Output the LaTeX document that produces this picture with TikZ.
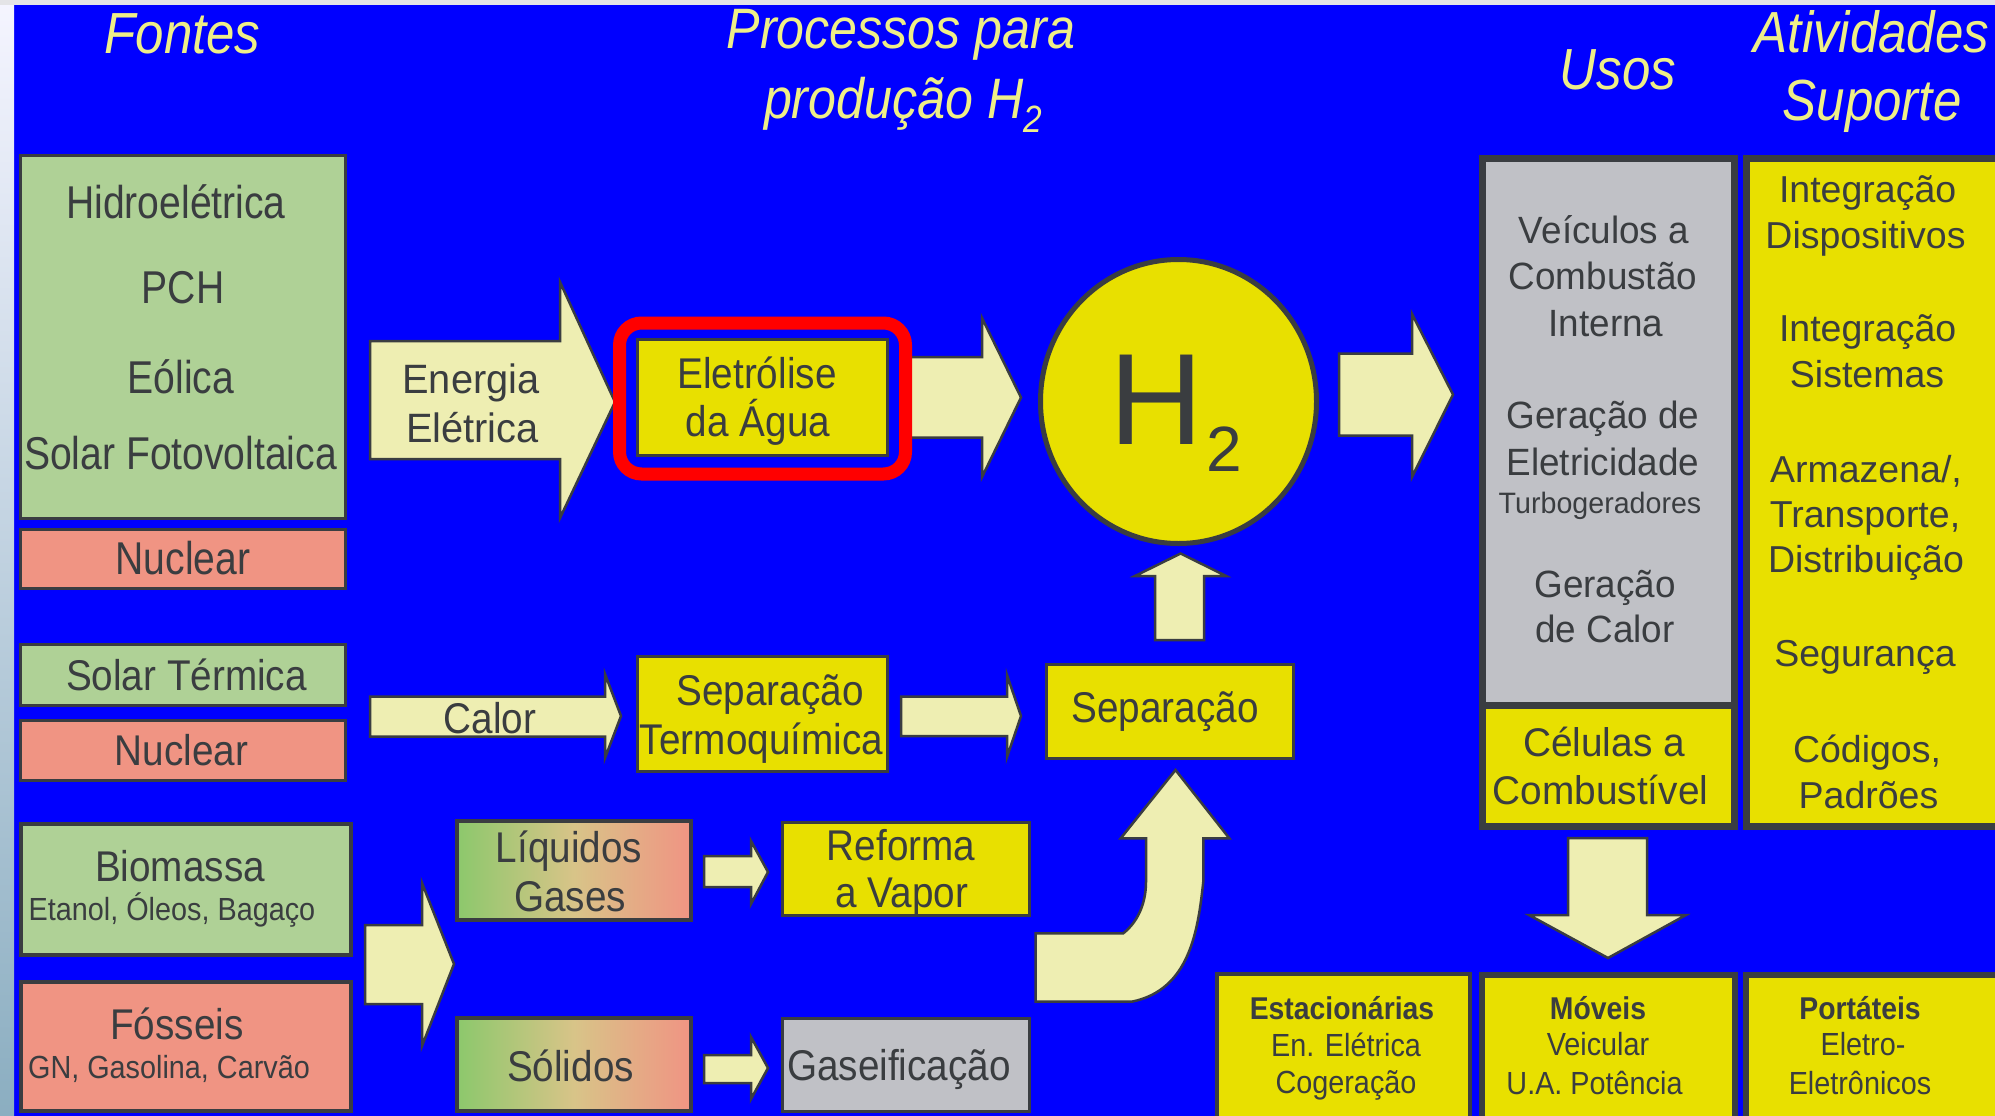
\documentclass[tikz,border=0pt]{standalone}
\usepackage{fontspec}
\setmainfont{Liberation Sans}[FakeStretch=0.9]
\newfontfamily\narf{Liberation Sans}[FakeStretch=0.85]
\newfontfamily\widf{Liberation Sans}[FakeStretch=0.97]
\newfontfamily\fullf{Liberation Sans}
\newfontfamily\titf{Liberation Sans}[FakeStretch=0.88]
\usetikzlibrary{shapes.geometric}
\definecolor{bgblue}{HTML}{0000FF}
\definecolor{titc}{HTML}{EEEE88}
\definecolor{txtc}{HTML}{3A3D40}
\definecolor{bordc}{HTML}{3A3D41}
\definecolor{grn}{HTML}{AFD196}
\definecolor{sal}{HTML}{F09483}
\definecolor{yel}{HTML}{E8E000}
\definecolor{palec}{HTML}{EEEEB2}
\definecolor{gryc}{HTML}{C0C1C6}
\definecolor{liqg}{HTML}{8CC86C}
\definecolor{liqm}{HTML}{D8C488}
\newcommand\fsz[1]{\fontsize{#1}{#1}\selectfont}
\begin{document}
\begin{tikzpicture}[x=1pt,y=-1pt,
  txt/.style={anchor=base,inner sep=0pt,outer sep=0pt,text=txtc},
  ttl/.style={anchor=base,inner sep=0pt,outer sep=0pt,text=titc},
  bx/.style={draw=bordc,inner sep=0pt,outer sep=0pt,line width=3pt},
  arr/.style={fill=palec,draw=bordc,line width=2.5pt,line join=miter}]
\useasboundingbox (0,0) rectangle (1995,1116);
% background
\fill[bgblue] (0,0) rectangle (1995,1116);
\shade[top color=white!80!blue!20, bottom color=blue!35!cyan!30!gray!70] (0,0) rectangle (14,1116);
\fill[blue!6!gray!20] (0,0) rectangle (1995,5);
% titles
\node[ttl,font=\titf\itshape\fsz{58}] (tFontes) at (182.5,54) {Fontes};
\node[ttl,font=\titf\itshape\fsz{57}] (tProc1) at (901,49) {Processos para};
\node[ttl,font=\titf\itshape\fsz{57}] (tProc2) at (903,118) {produção H\raisebox{-14pt}{\fsz{38}2}};
\node[ttl,font=\titf\itshape\fsz{58}] (tUsos) at (1618,89) {Usos};
\node[ttl,font=\titf\itshape\fsz{58}] (tAtiv) at (1871.5,53) {Atividades};
\node[ttl,font=\titf\itshape\fsz{58}] (tSup) at (1872,121) {Suporte};
% block arrows
\draw[arr] (370,341) -- (560,341) -- (560,282) -- (615,402) -- (560,518) -- (560,459) -- (370,459) -- cycle;
\draw[arr] (905,357) -- (982,357) -- (982,318) -- (1021,397.5) -- (982,477) -- (982,437.5) -- (905,437.5) -- cycle;
\draw[arr] (1339,353.5) -- (1412,353.5) -- (1412,314) -- (1453,394.6) -- (1412,477) -- (1412,435.7) -- (1339,435.7) -- cycle;
\draw[arr] (370,696.5) -- (605,696.5) -- (605,674) -- (621,716) -- (605,758) -- (605,736.6) -- (370,736.6) -- cycle;
\draw[arr] (901,696.5) -- (1007,696.5) -- (1007,675) -- (1021,716) -- (1007,757) -- (1007,736) -- (901,736) -- cycle;
\draw[arr] (1155,640) -- (1155,576) -- (1135,576) -- (1180.6,553.5) -- (1226,576) -- (1204,576) -- (1204,640) -- cycle;
\draw[arr] (365,925) -- (422,925) -- (422,883) -- (454,964) -- (422,1046) -- (422,1004) -- (365,1004) -- cycle;
\draw[arr] (704,856) -- (751,856) -- (751,841) -- (768,872) -- (751,904) -- (751,887) -- (704,887) -- cycle;
\draw[arr] (704,1055) -- (751,1055) -- (751,1037) -- (768,1068) -- (751,1099) -- (751,1083) -- (704,1083) -- cycle;
\draw[arr] (1035.7,933.3) -- (1123.3,933.3) .. controls (1140,920) and (1146,900) .. (1146,881.7) -- (1146,838.3) -- (1120.7,838.3) -- (1175.5,770) -- (1229.3,838.3) -- (1203.3,838.3) -- (1203.3,881.7) .. controls (1198,930) and (1190,990) .. (1131.7,1001.7) -- (1035.7,1001.7) -- cycle;
\draw[arr] (1568,838) -- (1647,838) -- (1647,915) -- (1686,915) -- (1608,958) -- (1529,915) -- (1568,915) -- cycle;
% source boxes
\node[bx,fill=grn,minimum width=325.5pt,minimum height=363pt] (bxEl) at (182.75,336.5) {};
\node[bx,fill=sal,minimum width=325.5pt,minimum height=59pt] (bxNuc1) at (182.75,559) {};
\node[bx,fill=grn,minimum width=325.5pt,minimum height=61pt] (bxSolT) at (182.75,675) {};
\node[bx,fill=sal,minimum width=325.5pt,minimum height=60pt] (bxNuc2) at (182.75,750.5) {};
\node[bx,fill=grn,line width=4pt,minimum width=330pt,minimum height=131pt] (bxBio) at (186,889.5) {};
\node[bx,fill=sal,line width=4pt,minimum width=330pt,minimum height=129pt] (bxFos) at (186,1046.5) {};
% process boxes
\node[bx,line width=4pt,shading=axis,left color=liqg,right color=sal,middle color=liqm,minimum width=234pt,minimum height=99pt] (bxLiq) at (574,870.5) {};
\node[bx,line width=4pt,shading=axis,left color=liqg,right color=sal,middle color=liqm,minimum width=234pt,minimum height=93pt] (bxSol) at (574,1064.5) {};
\node[bx,fill=yel,minimum width=250pt,minimum height=116.5pt] (bxEle) at (762.5,397.25) {};
\node[draw=red,line width=13pt,rounded corners=22pt,inner sep=0pt,minimum width=286pt,minimum height=151pt] (redframe) at (762.5,398.5) {};
\node[bx,fill=yel,minimum width=250pt,minimum height=115pt] (bxSepT) at (762.5,714) {};
\node[bx,fill=yel,minimum width=247pt,minimum height=94pt] (bxSep) at (1170,711.5) {};
\node[bx,fill=yel,minimum width=247pt,minimum height=93pt] (bxRef) at (906,869) {};
\node[bx,fill=gryc,minimum width=247pt,minimum height=93pt] (bxGas) at (906,1065) {};
\node[ellipse,draw=bordc,fill=yel,line width=5pt,inner sep=0pt,minimum width=276pt,minimum height=284pt] (h2) at (1178.5,401.5) {};
% uses / support
\node[bx,fill=gryc,line width=7pt,minimum width=252pt,minimum height=546.5pt] (bxUsos) at (1608.5,431.75) {};
\node[bx,fill=yel,line width=7pt,minimum width=252pt,minimum height=121.5pt] (bxCel) at (1608.5,765.75) {};
\node[bx,fill=yel,line width=7pt,minimum width=258.5pt,minimum height=668pt] (bxAtiv) at (1875.75,492.5) {};
\node[bx,fill=yel,line width=4pt,minimum width=252.7pt,minimum height=151.3pt] (bxEst) at (1343.35,1049.35) {};
\node[bx,fill=yel,line width=6pt,minimum width=253pt,minimum height=150pt] (bxMov) at (1608.5,1050) {};
\node[bx,fill=yel,line width=6pt,minimum width=259pt,minimum height=150pt] (bxPort) at (1875.5,1050) {};
% texts: sources
\node[txt,font=\narf\fsz{46}] (tHidro) at (176,218.5) {Hidroelétrica};
\node[txt,font=\narf\fsz{46}] (tPCH) at (183,303.5) {PCH};
\node[txt,font=\narf\fsz{46}] (tEol) at (181,393) {Eólica};
\node[txt,font=\narf\fsz{46}] (tSolF) at (180.5,469.6) {Solar Fotovoltaica};
\node[txt,font=\narf\fsz{46}] (tNuc1) at (183,574.5) {Nuclear};
\node[txt,font=\fsz{43}] (tSolT) at (186.5,690.5) {Solar Térmica};
\node[txt,font=\fsz{43}] (tNuc2) at (181.5,765) {Nuclear};
\node[txt,font=\fsz{43}] (tBio) at (180,881) {Biomassa};
\node[txt,font=\fsz{32}] (tBio2) at (172,920) {Etanol, Óleos, Bagaço};
\node[txt,font=\fsz{43}] (tFos) at (177,1039) {Fósseis};
\node[txt,font=\fsz{32}] (tFos2) at (169,1078) {GN, Gasolina, Carvão};
% arrow labels
\node[txt,font=\widf\fsz{41}] (tEn1) at (471,393) {Energia};
\node[txt,font=\widf\fsz{41}] (tEn2) at (472.5,442) {Elétrica};
\node[txt,font=\fsz{43}] (tCalor) at (490,733) {Calor};
% process texts
\node[txt,font=\fsz{43}] (tEle1) at (757,388.5) {Eletrólise};
\node[txt,font=\fsz{43}] (tEle2) at (758,436) {da Água};
\node[txt,font=\fsz{43}] (tSep1) at (770,705) {Separação};
\node[txt,font=\fsz{43}] (tSep2) at (761.5,754) {Termoquímica};
\node[txt,font=\fsz{43}] (tSep) at (1165,722) {Separação};
\node[txt,font=\fsz{43}] (tRef1) at (901,860) {Reforma};
\node[txt,font=\fsz{43}] (tRef2) at (902,907.5) {a Vapor};
\node[txt,font=\fsz{43}] (tLiq1) at (569,862) {Líquidos};
\node[txt,font=\fsz{43}] (tLiq2) at (570,911) {Gases};
\node[txt,font=\fsz{43}] (tSol) at (570.5,1081) {Sólidos};
\node[txt,font=\fsz{43}] (tGas) at (899,1080.5) {Gaseificação};
\node[txt,anchor=base west,font=\fullf\fsz{130}] (tH2) at (1109,444.6) {H\hspace{4pt}\raisebox{-26.4pt}{\fsz{64}2}};
% uses texts
\node[txt,font=\widf\fsz{38}] (tU1) at (1604,243) {Veículos a};
\node[txt,font=\widf\fsz{38}] (tU2) at (1603,289) {Combustão};
\node[txt,font=\widf\fsz{38}] (tU3) at (1606,336) {Interna};
\node[txt,font=\widf\fsz{38}] (tU4) at (1603,428) {Geração de};
\node[txt,font=\widf\fsz{38}] (tU5) at (1603,475) {Eletricidade};
\node[txt,font=\widf\fsz{29.5}] (tU6) at (1600,513.5) {Turbogeradores};
\node[txt,font=\widf\fsz{38}] (tU7) at (1605,597) {Geração};
\node[txt,font=\widf\fsz{38}] (tU8) at (1605,642) {de Calor};
\node[txt,font=\widf\fsz{40}] (tC1) at (1604,756) {Células a};
\node[txt,font=\widf\fsz{40}] (tC2) at (1600.5,804) {Combustível};
% support texts
\node[txt,font=\fullf\fsz{37.5}] (tA1) at (1867.6,202) {Integração};
\node[txt,font=\fullf\fsz{37.5}] (tA2) at (1865.5,248) {Dispositivos};
\node[txt,font=\fullf\fsz{37.5}] (tA3) at (1867.6,341) {Integração};
\node[txt,font=\fullf\fsz{37.5}] (tA4) at (1867,387.5) {Sistemas};
\node[txt,font=\fullf\fsz{37.5}] (tA5) at (1866,482) {Armazena/,};
\node[txt,font=\fullf\fsz{37.5}] (tA6) at (1865,527) {Transporte,};
\node[txt,font=\fullf\fsz{37.5}] (tA7) at (1866,572) {Distribuição};
\node[txt,font=\fullf\fsz{37.5}] (tA8) at (1865,666) {Segurança};
\node[txt,font=\fullf\fsz{37.5}] (tA9) at (1867,762) {Códigos,};
\node[txt,font=\fullf\fsz{37.5}] (tA10) at (1868.5,808) {Padrões};
% application boxes texts
\node[txt,font=\bfseries\fsz{31.5}] (tE1) at (1342,1019.3) {Estacionárias};
\node[txt,font=\fsz{32}] (tE2) at (1346,1056) {En. Elétrica};
\node[txt,font=\fsz{32}] (tE3) at (1346,1093) {Cogeração};
\node[txt,font=\bfseries\fsz{31.5}] (tM1) at (1598,1019) {Móveis};
\node[txt,font=\fsz{32}] (tM2) at (1598,1055) {Veicular};
\node[txt,font=\fsz{32}] (tM3) at (1594.5,1094) {U.A. Potência};
\node[txt,font=\bfseries\fsz{31.5}] (tP1) at (1860,1019) {Portáteis};
\node[txt,font=\fsz{32}] (tP2) at (1863,1055) {Eletro-};
\node[txt,font=\fsz{32}] (tP3) at (1860,1094) {Eletrônicos};
\end{tikzpicture}
\end{document}
